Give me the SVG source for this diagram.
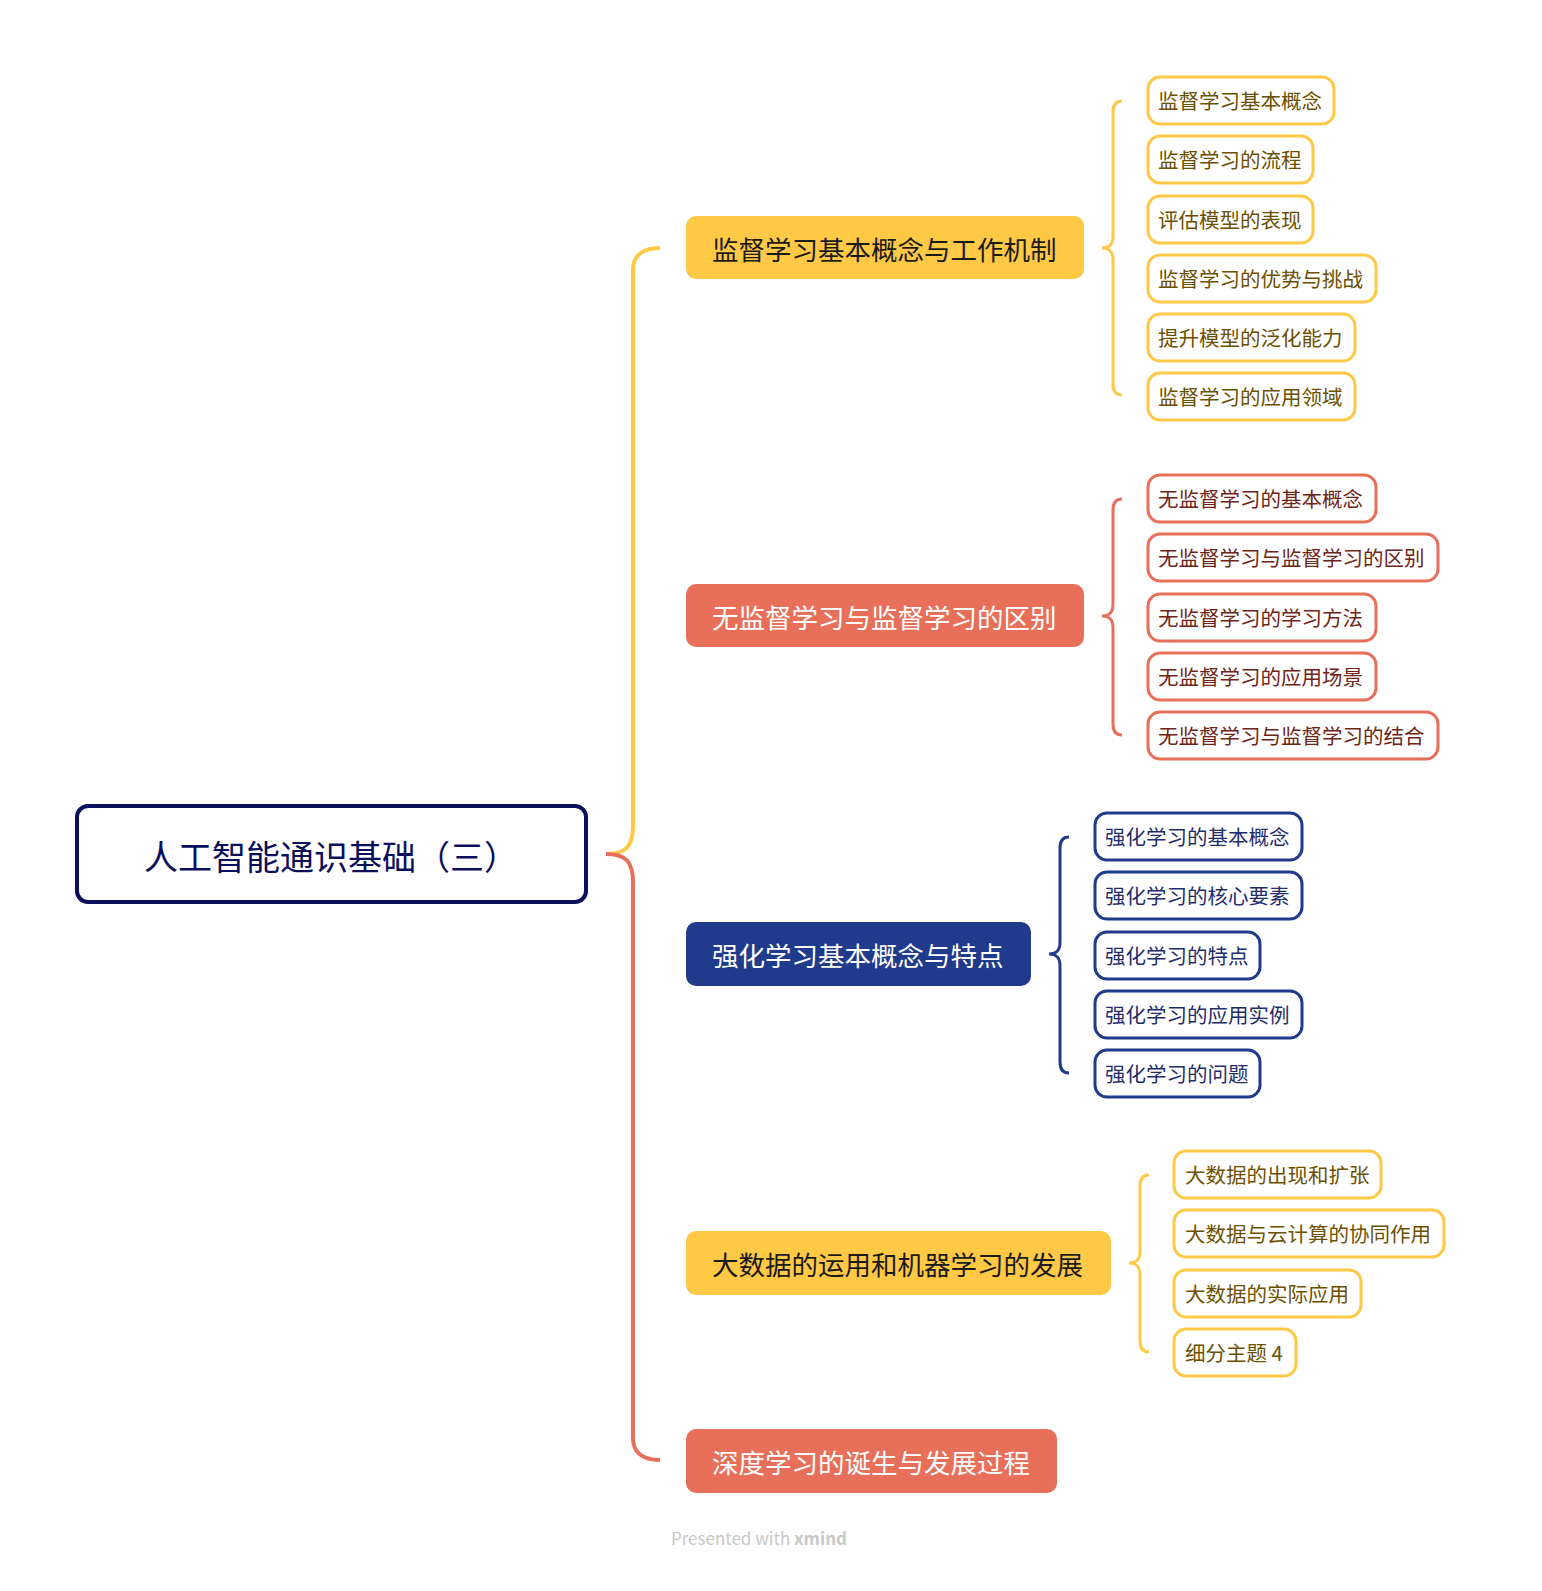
<svg xmlns="http://www.w3.org/2000/svg" width="1542" height="1591" viewBox="0 0 1542 1591">
<style>
text{font-family:"Noto Sans CJK SC","Noto Sans",sans-serif;dominant-baseline:central}
.root{fill:#fff;stroke:#0b0f5c;stroke-width:4}
.rt{font-size:34px;fill:#0b0f5c;text-anchor:middle}
.bt{font-size:26.5px}
.ly{fill:#fff;stroke:#FFC845;stroke-width:3}
.lr{fill:#fff;stroke:#E8705A;stroke-width:3}
.lb{fill:#fff;stroke:#203A8C;stroke-width:3}
.lt{font-size:20.5px}
.ty{fill:#6B5000}
.tr{fill:#6E2417}
.tb{fill:#1F2D6B}
.c{fill:none;stroke-linecap:butt}
</style>
<rect width="1542" height="1591" fill="#fff"/>
<g id="connectors">
<path class="c" stroke="#FFC845" stroke-width="4" d="M606,854 C626,854 633,846 633,826 L633,270 C633,256 642,248 660,248"/>
<path class="c" stroke="#E8705A" stroke-width="4" d="M606,854 C626,854 633,862 633,882 L633,1438 C633,1452 642,1460 660,1460"/>
<path class="c" stroke="#FFC845" stroke-width="3" d="M1102,248 C1110,248 1113,244 1113,236 L1113,112 C1113,105 1116,101 1122,101 M1102,248 C1110,248 1113,252 1113,260 L1113,384 C1113,391 1116,395 1122,395"/>
<path class="c" stroke="#E8705A" stroke-width="3" d="M1102,616 C1110,616 1113,612 1113,604 L1113,510 C1113,503 1116,499 1122,499 M1102,616 C1110,616 1113,620 1113,628 L1113,724 C1113,731 1116,735 1122,735"/>
<path class="c" stroke="#203A8C" stroke-width="3" d="M1049,954 C1057,954 1060,950 1060,942 L1060,848 C1060,841 1063,837 1069,837 M1049,954 C1057,954 1060,958 1060,966 L1060,1062 C1060,1069 1063,1073 1069,1073"/>
<path class="c" stroke="#FFC845" stroke-width="3" d="M1129,1263 C1137,1263 1140,1259 1140,1251 L1140,1186 C1140,1179 1143,1175 1149,1175 M1129,1263 C1137,1263 1140,1267 1140,1275 L1140,1341 C1140,1348 1143,1352 1149,1352"/>
</g>
<g id="root">
<rect class="root" x="77" y="806" width="509" height="96" rx="11"/>
<text class="rt" x="331" y="855">人工智能通识基础（三）</text>
</g>
<g id="b1">
<rect x="686" y="216" width="398" height="63" rx="10" fill="#FFC845"/>
<text class="bt" x="712" y="248" fill="#1a1a1a">监督学习基本概念与工作机制</text>
</g>
<g id="b2">
<rect x="686" y="584" width="398" height="63" rx="10" fill="#E8705A"/>
<text class="bt" x="712" y="616" fill="#fff">无监督学习与监督学习的区别</text>
</g>
<g id="b3">
<rect x="686" y="922" width="345" height="64" rx="10" fill="#203A8C"/>
<text class="bt" x="712" y="954" fill="#fff">强化学习基本概念与特点</text>
</g>
<g id="b4">
<rect x="686" y="1231" width="425" height="64" rx="10" fill="#FFC845"/>
<text class="bt" x="712" y="1263" fill="#1a1a1a">大数据的运用和机器学习的发展</text>
</g>
<g id="b5">
<rect x="686" y="1429" width="371" height="64" rx="10" fill="#E8705A"/>
<text class="bt" x="712" y="1461" fill="#fff">深度学习的诞生与发展过程</text>
</g>
<g id="l1-1"><rect class="ly" x="1148" y="77" width="186" height="47" rx="12"/><text class="lt ty" x="1158" y="100">监督学习基本概念</text></g>
<g id="l1-2"><rect class="ly" x="1148" y="136" width="165" height="47" rx="12"/><text class="lt ty" x="1158" y="159">监督学习的流程</text></g>
<g id="l1-3"><rect class="ly" x="1148" y="196" width="165" height="47" rx="12"/><text class="lt ty" x="1158" y="219">评估模型的表现</text></g>
<g id="l1-4"><rect class="ly" x="1148" y="255" width="228" height="47" rx="12"/><text class="lt ty" x="1158" y="278">监督学习的优势与挑战</text></g>
<g id="l1-5"><rect class="ly" x="1148" y="314" width="207" height="47" rx="12"/><text class="lt ty" x="1158" y="337">提升模型的泛化能力</text></g>
<g id="l1-6"><rect class="ly" x="1148" y="373" width="207" height="47" rx="12"/><text class="lt ty" x="1158" y="396">监督学习的应用领域</text></g>
<g id="l2-1"><rect class="lr" x="1148" y="475" width="228" height="47" rx="12"/><text class="lt tr" x="1158" y="498">无监督学习的基本概念</text></g>
<g id="l2-2"><rect class="lr" x="1148" y="534" width="290" height="47" rx="12"/><text class="lt tr" x="1158" y="557">无监督学习与监督学习的区别</text></g>
<g id="l2-3"><rect class="lr" x="1148" y="594" width="228" height="47" rx="12"/><text class="lt tr" x="1158" y="617">无监督学习的学习方法</text></g>
<g id="l2-4"><rect class="lr" x="1148" y="653" width="228" height="47" rx="12"/><text class="lt tr" x="1158" y="676">无监督学习的应用场景</text></g>
<g id="l2-5"><rect class="lr" x="1148" y="712" width="290" height="47" rx="12"/><text class="lt tr" x="1158" y="735">无监督学习与监督学习的结合</text></g>
<g id="l3-1"><rect class="lb" x="1095" y="813" width="207" height="47" rx="12"/><text class="lt tb" x="1105" y="836">强化学习的基本概念</text></g>
<g id="l3-2"><rect class="lb" x="1095" y="872" width="207" height="47" rx="12"/><text class="lt tb" x="1105" y="895">强化学习的核心要素</text></g>
<g id="l3-3"><rect class="lb" x="1095" y="932" width="165" height="47" rx="12"/><text class="lt tb" x="1105" y="955">强化学习的特点</text></g>
<g id="l3-4"><rect class="lb" x="1095" y="991" width="207" height="47" rx="12"/><text class="lt tb" x="1105" y="1014">强化学习的应用实例</text></g>
<g id="l3-5"><rect class="lb" x="1095" y="1050" width="165" height="47" rx="12"/><text class="lt tb" x="1105" y="1073">强化学习的问题</text></g>
<g id="l4-1"><rect class="ly" x="1174" y="1151" width="207" height="47" rx="12"/><text class="lt ty" x="1185" y="1174">大数据的出现和扩张</text></g>
<g id="l4-2"><rect class="ly" x="1174" y="1210" width="270" height="47" rx="12"/><text class="lt ty" x="1185" y="1233">大数据与云计算的协同作用</text></g>
<g id="l4-3"><rect class="ly" x="1174" y="1270" width="187" height="47" rx="12"/><text class="lt ty" x="1185" y="1293">大数据的实际应用</text></g>
<g id="l4-4"><rect class="ly" x="1174" y="1329" width="122" height="47" rx="12"/><text class="lt ty" x="1185" y="1352">细分主题 4</text></g>
<text x="759" y="1537" text-anchor="middle" font-size="17" fill="#c8c8c8">Presented with <tspan font-weight="bold">xmind</tspan></text>
</svg>
